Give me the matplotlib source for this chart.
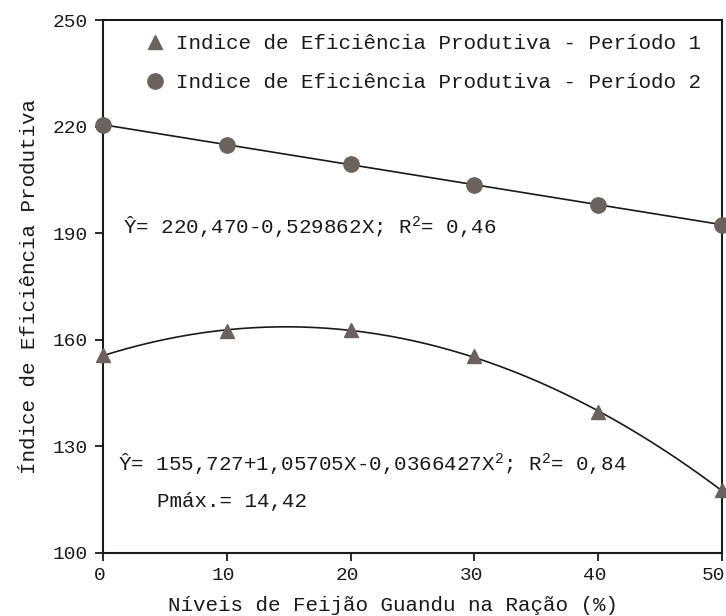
import numpy as np
import matplotlib
matplotlib.use("Agg")
import matplotlib.pyplot as plt
from matplotlib.transforms import ScaledTranslation

# ---- data ----
niveis = [0, 10, 20, 30, 40, 50]
periodo1 = [155.7, 162.4, 162.8, 155.4, 139.6, 117.6]
periodo2 = [220.5, 214.9, 209.4, 203.6, 198.0, 192.4]
x_ticks = [0, 10, 20, 30, 40, 50]
y_ticks = [100, 130, 160, 190, 220, 250]
leg_labels = ["Indice de Eficiência Produtiva - Período 1",
              "Indice de Eficiência Produtiva - Período 2"]
eq2_text = "Ŷ= 220,470-0,529862X; R$^{2}$= 0,46"
eq1_text = "Ŷ= 155,727+1,05705X-0,0366427X$^{2}$; R$^{2}$= 0,84"
pmax_text = "Pmáx.= 14,42"
xlabel = "Níveis de Feijão Guandu na Ração (%)"
ylabel = "Índice de Eficiência Produtiva"

FONT = "Liberation Mono"
plt.rcParams["font.family"] = [FONT, "DejaVu Sans Mono"]
plt.rcParams["mathtext.fontset"] = "custom"
plt.rcParams["mathtext.rm"] = FONT
plt.rcParams["mathtext.it"] = FONT
plt.rcParams["mathtext.bf"] = FONT

ink = "#1a1a1a"
mcol = "#6b625d"

fig = plt.figure(figsize=(7.26, 6.16), dpi=100)
ax = fig.add_axes([0.1419, 0.1023, 0.8526, 0.8652])

# fitted curves
xs = np.linspace(0, 50, 300)
c1 = np.polyfit(niveis, periodo1, 2)
c2 = np.polyfit(niveis, periodo2, 1)
ax.plot(xs, np.polyval(c1, xs), color=ink, lw=1.2, zorder=2)
ax.plot(xs, np.polyval(c2, xs), color=ink, lw=1.2, zorder=2)

# observed points
ax.plot(niveis, periodo1, linestyle="none", marker="^", ms=10, color=mcol,
        mec=mcol, label=leg_labels[0], clip_on=False, zorder=3)
ax.plot(niveis, periodo2, linestyle="none", marker="o", ms=11, color=mcol,
        mec=mcol, label=leg_labels[1], clip_on=False, zorder=3)

ax.set_xlim(0, 50)
ax.set_ylim(100, 250)
ax.set_xticks(x_ticks)
ax.set_yticks(y_ticks)
ax.tick_params(axis="both", direction="out", length=6, width=1.3,
               labelsize=14, colors=ink)
ax.tick_params(axis="y", pad=5)
ax.tick_params(axis="x", pad=4)
for s in ax.spines.values():
    s.set_linewidth(1.5)
    s.set_color(ink)

fig.canvas.draw()
xlabels = ax.get_xticklabels()
for i, lab in enumerate(xlabels):
    dx = -9 if i == len(xlabels) - 1 else -3
    lab.set_transform(lab.get_transform() +
                      ScaledTranslation(dx / 100, 0, fig.dpi_scale_trans))

ax.set_xlabel(xlabel, fontsize=15, color=ink)
ax.xaxis.set_label_coords(0.4685, -0.098)
ax.xaxis.label.set_va("center")
ax.set_ylabel(ylabel, fontsize=15, color=ink)
ax.yaxis.set_label_coords(-0.1195, 0.5)
ax.yaxis.label.set_va("center")

leg = ax.legend(loc="upper left", bbox_to_anchor=(0.0706, 0.973),
                frameon=False, fontsize=15, numpoints=1,
                handlelength=0.8, handletextpad=0.6, borderpad=0,
                borderaxespad=0, labelspacing=0.94)
for t in leg.get_texts():
    t.set_color(ink)

ax.text(0.0323, 0.610, eq2_text, transform=ax.transAxes, fontsize=15,
        color=ink, va="center", ha="left")
ax.text(0.0242, 0.1660, eq1_text, transform=ax.transAxes, fontsize=15,
        color=ink, va="center", ha="left")
ax.text(0.0872, 0.0966, pmax_text, transform=ax.transAxes, fontsize=15,
        color=ink, va="center", ha="left")

fig.savefig("out.png", dpi=100, facecolor="white")
